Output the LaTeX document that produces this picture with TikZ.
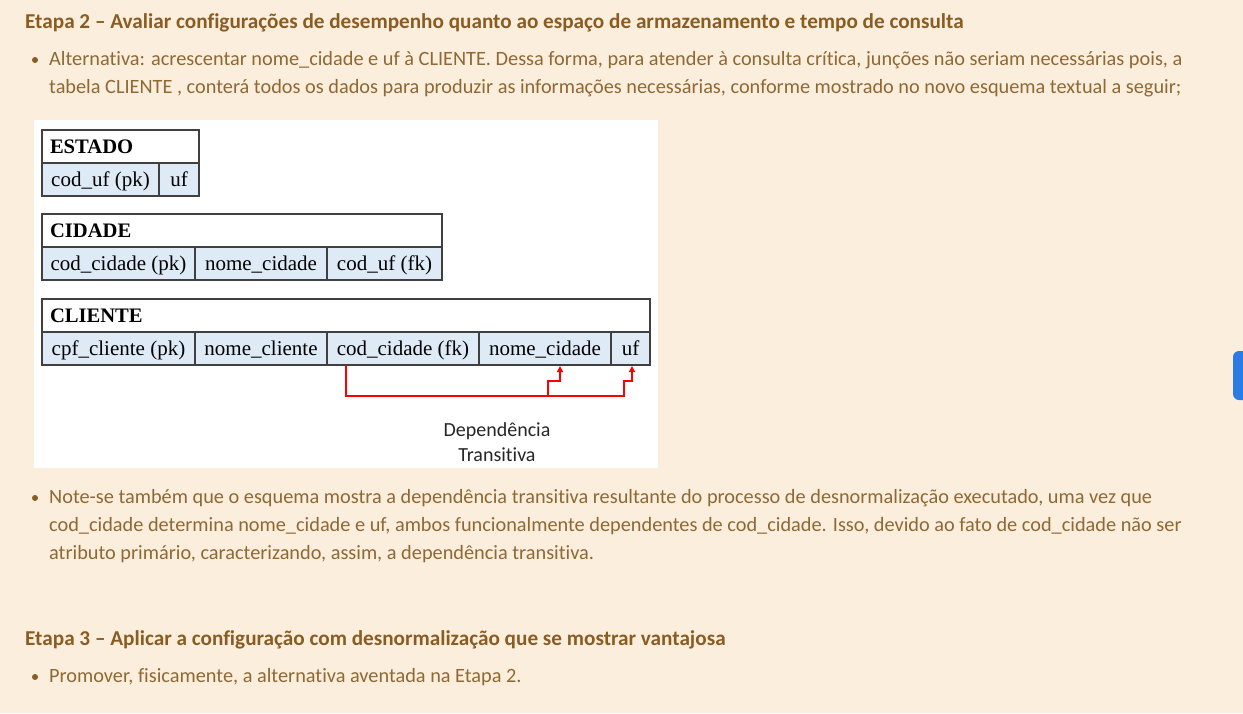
\documentclass[tikz,border=0pt]{standalone}
\usepackage{fontspec}
\setmainfont[RawFeature=-liga]{Carlito}
\newfontfamily\tabfont{Liberation Serif}
\usetikzlibrary{positioning,arrows.meta}
\definecolor{pagebg}{RGB}{252,238,220}
\definecolor{headbrown}{RGB}{139,92,34}
\definecolor{textbrown}{RGB}{143,104,52}
\definecolor{cellblue}{RGB}{222,234,246}
\definecolor{gridgray}{RGB}{64,64,64}
\definecolor{tabblue}{RGB}{42,123,228}
\tikzset{
  heading/.style={anchor=base west, inner sep=0pt, text=headbrown,
    font=\bfseries\fontsize{21.2}{24}\selectfont},
  bodytext/.style={anchor=base west, inner sep=0pt, text=textbrown,
    font=\fontsize{20.3}{24}\selectfont},
  bulletdot/.style={circle, fill=headbrown, inner sep=0pt, minimum size=6pt},
  headcell/.style={draw=gridgray, fill=white, line width=1.2pt, outer sep=0pt,
    anchor=north west, minimum height=33pt, inner xsep=8pt, align=left,
    font=\tabfont\bfseries\fontsize{20.6}{22}\selectfont},
  datacell/.style={draw=gridgray, fill=cellblue, line width=1.2pt, outer sep=0pt,
    minimum height=33pt, inner xsep=0pt, minimum width=#1,
    text height=16pt, text depth=3pt,
    font=\tabfont\fontsize{21}{22}\selectfont},
  depline/.style={draw=red, line width=1.3pt},
  deparrow/.style={depline, -{Triangle[width=6pt,length=6pt]}},
}
\begin{document}
\begin{tikzpicture}[x=1pt,y=-1pt]
\useasboundingbox (0,0) rectangle (1243,713);
% page
\fill[pagebg] (0,0) rectangle (1243,713);
\begin{scope}
\clip (0,0) rectangle (1243,713);
\fill[tabblue, rounded corners=6pt] (1233,351) rectangle (1255,400);
\end{scope}
% etapa 2
\node[heading] (etapa2) at (25,28) {Etapa 2 – Avaliar configurações de desempenho quanto ao espaço de armazenamento e tempo de consulta};
\node[bulletdot] (dot1) at (35,60) {};
\node[bodytext] (alt1) at (49,65) {Alternativa: acrescentar nome\_cidade e uf à CLIENTE. Dessa forma, para atender à consulta crítica, junções não seriam necessárias pois, a};
\node[bodytext] (alt2) at (49,93) {tabela CLIENTE , conterá todos os dados para produzir as informações necessárias, conforme mostrado no novo esquema textual a seguir;};
% figure
\fill[white] (34,120) rectangle (658,468);
% ESTADO
\node[headcell, text width=141pt] (estado) at (42,130) {ESTADO};
\node[datacell=117pt, anchor=north west] (estado-pk) at (estado.south west) {cod\_uf (pk)};
\node[datacell=40pt, right=0pt of estado-pk] (estado-uf) {uf};
% CIDADE
\node[headcell, text width=384pt] (cidade) at (42,214) {CIDADE};
\node[datacell=153pt, anchor=north west] (cidade-pk) at (cidade.south west) {cod\_cidade (pk)};
\node[datacell=132pt, right=0pt of cidade-pk] (cidade-nome) {nome\_cidade};
\node[datacell=115pt, right=0pt of cidade-nome] (cidade-fk) {cod\_uf (fk)};
% CLIENTE
\node[headcell, text width=592pt] (cliente) at (42,299) {CLIENTE};
\node[datacell=153pt, anchor=north west] (cli-pk) at (cliente.south west) {cpf\_cliente (pk)};
\node[datacell=132pt, right=0pt of cli-pk] (cli-nomecli) {nome\_cliente};
\node[datacell=152pt, right=0pt of cli-nomecli] (cli-fk) {cod\_cidade (fk)};
\node[datacell=132pt, right=0pt of cli-fk] (cli-nome) {nome\_cidade};
\node[datacell=39pt, right=0pt of cli-nome] (cli-uf) {uf};
% transitive dependency
\coordinate (dep-start) at ([xshift=19pt]cli-fk.south west);
\coordinate (nome-tip) at ([xshift=81pt,yshift=-1pt]cli-nome.south west);
\coordinate (uf-tip) at ([xshift=21pt,yshift=-1pt]cli-uf.south west);
\coordinate (dep-join) at ([xshift=202pt,yshift=-31pt]dep-start);
\draw[deparrow] (dep-start) |- (dep-join) -| ([xshift=-8pt,yshift=-15pt]uf-tip) -| (uf-tip);
\draw[deparrow] (dep-join) |- ([xshift=-12pt,yshift=-15pt]nome-tip) -| (nome-tip);
\node[align=center, text=black!85, font=\fontsize{20}{25}\selectfont] (dep-label) at (497,442) {Dependência\\Transitiva};
% note
\node[bulletdot] (dot2) at (35,498) {};
\node[bodytext] (note1) at (49,503) {Note-se também que o esquema mostra a dependência transitiva resultante do processo de desnormalização executado, uma vez que};
\node[bodytext] (note2) at (49,531) {cod\_cidade determina nome\_cidade e uf, ambos funcionalmente dependentes de cod\_cidade. Isso, devido ao fato de cod\_cidade não ser};
\node[bodytext] (note3) at (49,559) {atributo primário, caracterizando, assim, a dependência transitiva.};
% etapa 3
\node[heading] (etapa3) at (25,645) {Etapa 3 – Aplicar a configuração com desnormalização que se mostrar vantajosa};
\node[bulletdot] (dot3) at (35,677) {};
\node[bodytext] (promo) at (49,682) {Promover, fisicamente, a alternativa aventada na Etapa 2.};
\end{tikzpicture}
\end{document}
